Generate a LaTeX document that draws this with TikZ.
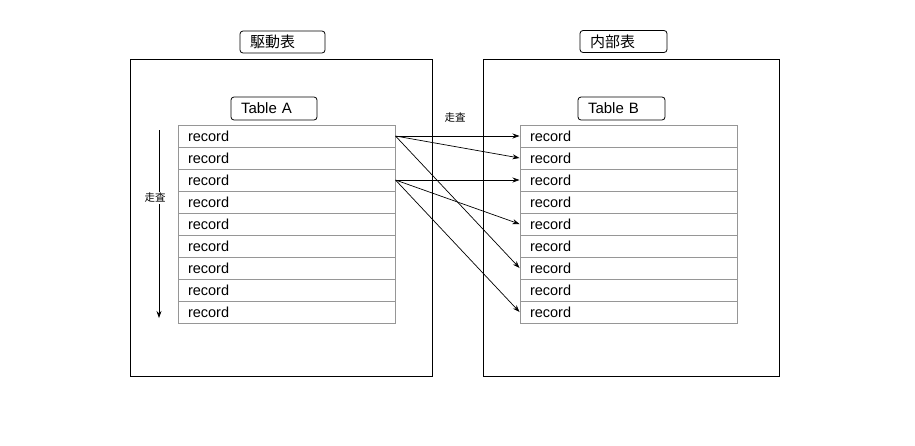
\documentclass[tikz,border=0pt]{standalone}
\usepackage{fontspec}
\setmainfont{Liberation Sans}
\newfontfamily\jpfont{Noto Sans CJK JP}
\usetikzlibrary{arrows.meta}
\definecolor{recgray}{RGB}{150,150,150}

\begin{document}
\begin{tikzpicture}[x=1pt, y=-1pt,
    outer/.style={draw, line width=1pt, minimum width=#1, minimum height=317pt, inner sep=0pt},
    tag/.style={draw, line width=0.8pt, rounded corners=3pt, minimum height=22pt, inner ysep=0pt, inner xsep=10pt, text width=#1, align=left, font=\fontsize{15}{17}\selectfont},
    record/.style={draw=recgray, line width=1pt, minimum height=22pt, inner ysep=0pt, inner xsep=10pt, text width=197pt, align=left, font=\fontsize{14.5}{16}\selectfont},
    scan/.style={font=\jpfont\fontsize{10.5}{12}\selectfont},
    link/.style={-{Stealth[length=7pt, width=5pt]}, line width=0.7pt}]
    \useasboundingbox (0,0) rectangle (915,445);

    % Outer frames
    \node[outer=302pt] (drive) at (281,217.5) {};
    \node[outer=296pt] (inner) at (631,217.5) {};
    \node[tag=65pt] (drivetag) at (282.5,42) {\jpfont 駆動表};
    \node[tag=67pt] (innertag) at (623.5,41.5) {\jpfont 内部表};

    % Tables
    \node[tag=66pt, minimum height=23pt] (taga) at (274,108.5) {Table A};
    \node[tag=67pt, minimum height=23pt] (tagb) at (621.5,108.5) {Table B};
    \foreach \i in {1,...,9} {
        \node[record] (a\i) at (286.5,114+22*\i) {record};
        \node[record] (b\i) at (628.5,114+22*\i) {record};
    }

    % Scan down table A
    \coordinate (scantop) at (159,130);
    \coordinate (scanend) at (159,318);
    \draw[link] (scantop) -- (scanend);
    \node[scan, fill=white, inner sep=1pt] (scanl) at (155,198) {走査};

    % Lookups into table B
    \node[scan] (scanr) at (455,118) {走査};
    \foreach \t in {1,2,7} \draw[link] (a1.east) -- (b\t.west);
    \foreach \t in {3,5,9} \draw[link] (a3.east) -- (b\t.west);
\end{tikzpicture}
\end{document}
